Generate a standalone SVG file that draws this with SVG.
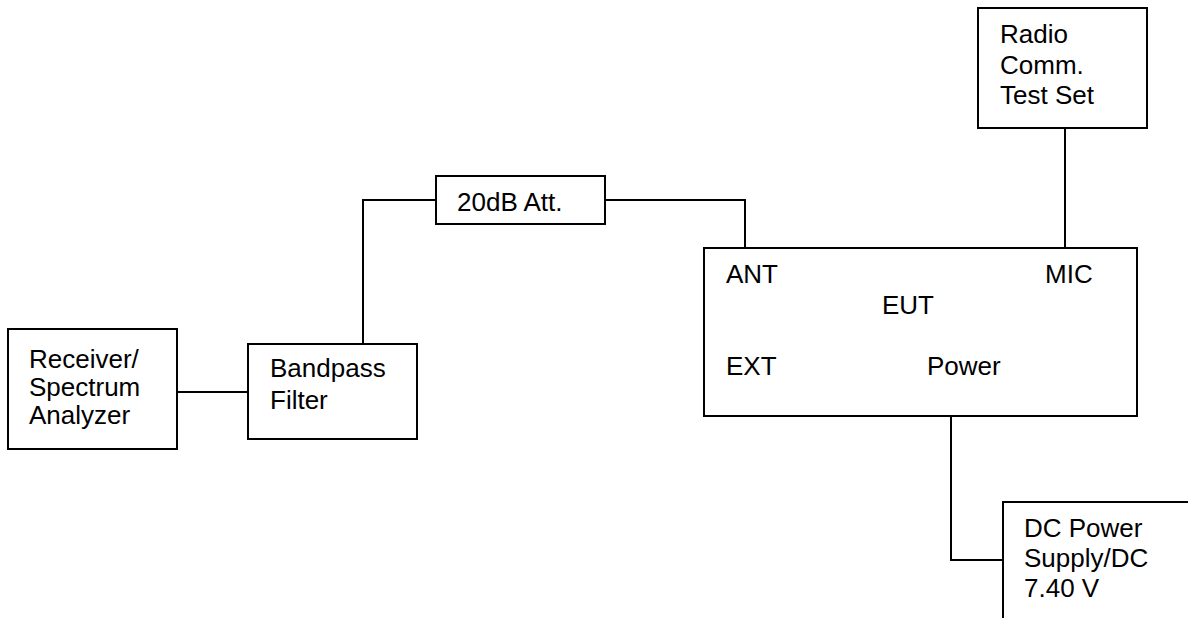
<svg xmlns="http://www.w3.org/2000/svg" width="1188" height="618" viewBox="0 0 1188 618">
<style>
.box{fill:#fff;stroke:#000;stroke-width:2}
.wire{fill:none;stroke:#000;stroke-width:2}
text{font-family:"Liberation Sans",Arial,sans-serif;font-size:26px;fill:#000}
</style>
<rect width="1188" height="618" fill="#fff"/>
<g id="connectors">
<path class="wire" d="M177,392 H248"/>
<path class="wire" d="M363,344 V200 H436"/>
<path class="wire" d="M605,200 H745 V248"/>
<path class="wire" d="M1065,128 V248"/>
<path class="wire" d="M951,416 V560 H1003"/>
</g>
<g id="receiver">
<rect class="box" x="8" y="329" width="169" height="120"/>
<text x="29" y="368">Receiver/</text>
<text x="29" y="396">Spectrum</text>
<text x="29" y="424">Analyzer</text>
</g>
<g id="bandpass">
<rect class="box" x="248" y="344" width="169" height="95"/>
<text x="270" y="377">Bandpass</text>
<text x="270" y="409">Filter</text>
</g>
<g id="attenuator">
<rect class="box" x="436" y="176" width="169" height="48"/>
<text x="457" y="211">20dB Att.</text>
</g>
<g id="radio">
<rect class="box" x="978" y="8" width="169" height="120"/>
<text x="1000" y="43">Radio</text>
<text x="1000" y="74">Comm.</text>
<text x="1000" y="104">Test Set</text>
</g>
<g id="eut">
<rect class="box" x="704" y="248" width="433" height="168"/>
<text x="726" y="283">ANT</text>
<text x="1045" y="283">MIC</text>
<text x="882" y="314">EUT</text>
<text x="726" y="375">EXT</text>
<text x="927" y="375">Power</text>
</g>
<g id="dcpower">
<rect class="box" x="1003" y="502" width="220" height="140"/>
<text x="1024" y="537">DC Power</text>
<text x="1024" y="567">Supply/DC</text>
<text x="1024" y="597">7.40 V</text>
</g>
</svg>
